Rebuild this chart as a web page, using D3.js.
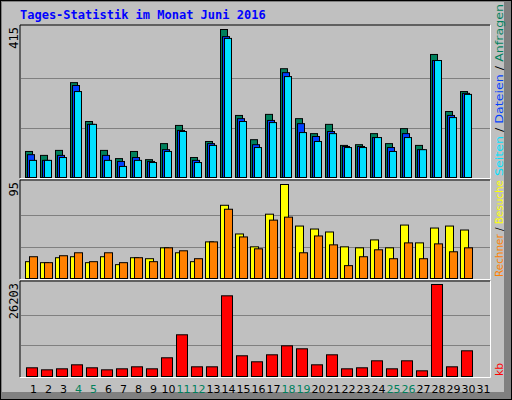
<!DOCTYPE html><html><head><meta charset="utf-8"><script src="https://cdn.jsdelivr.net/npm/d3@7"></script>
<style>body{margin:0;background:#fff}svg text{font-family:"DejaVu Sans Mono",monospace}</style></head><body><svg id="c" width="512" height="400"></svg>
<script>
const days=d3.range(1,32);
const weekend=[4,5,11,12,18,19,25,26];
const hits=[73,62,76,266,157,76,53,73,50,95,146,56,101,415,174,106,177,305,165,123,149,90,92,123,95,137,90,345,185,241,0];
const files=[64,48,62,258,149,62,45,56,45,78,132,48,95,395,165,92,160,294,151,115,129,87,87,112,84,123,78,328,174,236,0];
const pages=[48,48,56,241,149,48,31,48,42,73,129,42,90,390,157,84,154,283,126,101,123,84,84,112,73,112,78,328,168,233,0];
const visits=[17,16,21,22,16,22,14,21,20,31,26,17,37,74,45,32,65,95,53,50,47,32,31,39,31,54,36,51,53,49,0];
const sites=[22,16,23,26,17,26,16,21,17,31,28,20,37,70,42,30,59,62,26,43,34,13,22,29,20,36,20,35,27,31,0];
const kb=[2478,1900,2190,3330,2478,1900,2190,2760,2190,5330,11880,2760,2760,22980,5900,4190,6180,8740,7890,3330,6180,2190,2478,4470,2190,4470,1620,26203,2760,7320,0];
const maxTop=415,maxMid=95,maxBot=26203;
const svg=d3.select("#c");
svg.append("rect").attr("x",0).attr("y",0).attr("width",512).attr("height",400).attr("fill","#000");
svg.append("rect").attr("x",1).attr("y",1).attr("width",510).attr("height",398).attr("fill","#808080");
svg.append("rect").attr("x",2).attr("y",2).attr("width",502).attr("height",390).attr("fill","#c0c0c0");
svg.append("text").attr("x",20).attr("y",19).attr("fill","#0000ff").attr("font-weight","bold").attr("font-size",12).text("Tages-Statistik im Monat Juni 2016");
const x=d3.scaleBand().domain(days).range([26,491]);
function panel(y0,y1,top,max){
  svg.append("rect").attr("x",20).attr("y",y0).attr("width",470).attr("height",y1-y0).attr("fill","#c0c0c0");
  svg.append("path").attr("d",`M20,${y1}V${y0}H490`).attr("stroke","#000").attr("fill","none");
  svg.append("path").attr("d",`M20,${y1+0.5}H490.5V${y0}`).attr("stroke","#fff").attr("fill","none");
  const s=d3.scaleLinear().domain([0,max]).range([y1-1,top]);
  [max/3,2*max/3].forEach(v=>svg.append("line").attr("x1",21).attr("x2",490).attr("y1",Math.round(s(v))+0.5).attr("y2",Math.round(s(v))+0.5).attr("stroke","#808080"));
  svg.append("text").attr("transform",`translate(18,${y0+2}) rotate(-90)`).attr("text-anchor","end").attr("font-size",12).attr("fill","#000").text(max);
  return s;
}
function bars(data,s,off,w,col){
  svg.append("g").selectAll("rect").data(data).join("rect").filter(d=>d>0)
   .attr("x",(d,i)=>x(days[i])+off+0.5).attr("y",d=>s(d)+0.5).attr("width",w).attr("height",d=>s(0)-s(d))
   .attr("fill",col).attr("stroke","#000");
}
const sT=panel(25,178,29,maxTop);
bars(hits,sT,-1,7,"#00805c");bars(files,sT,1,7,"#0040ff");bars(pages,sT,3,7,"#00e0ff");
const sM=panel(180,279,184,maxMid);
bars(visits,sM,-1,8,"#ffff00");bars(sites,sM,3,8,"#ff8000");
const sB=panel(281,377,284,maxBot);
bars(kb,sB,0,11,"#ff0000");
svg.append("g").selectAll("text").data(days).join("text").attr("x",d=>x(d)+7.5).attr("y",393).attr("text-anchor","middle").attr("font-size",11)
 .style("font-family","'DejaVu Sans',sans-serif").attr("fill",d=>weekend.includes(d)?"#00805c":"#000").text(d=>d);
function side(y,len,parts){
  const t=svg.append("text").attr("transform",`translate(503,${y}) rotate(-90)`).attr("font-size",11)
   .style("font-family","'DejaVu Sans',sans-serif").attr("textLength",len).attr("lengthAdjust","spacingAndGlyphs");
  parts.forEach(p=>t.append("tspan").attr("fill",p[1]).text(p[0]));
}
side(176,172,[["Seiten","#00e0ff"],[" / ","#000"],["Dateien","#0040ff"],[" / ","#000"],["Anfragen","#00805c"]]);
side(277,97,[["Rechner","#ff8000"],[" / ","#000"],["Besuche","#ffff00"]]);
side(376,13,[["kb","#ff0000"]]);
</script></body></html>
